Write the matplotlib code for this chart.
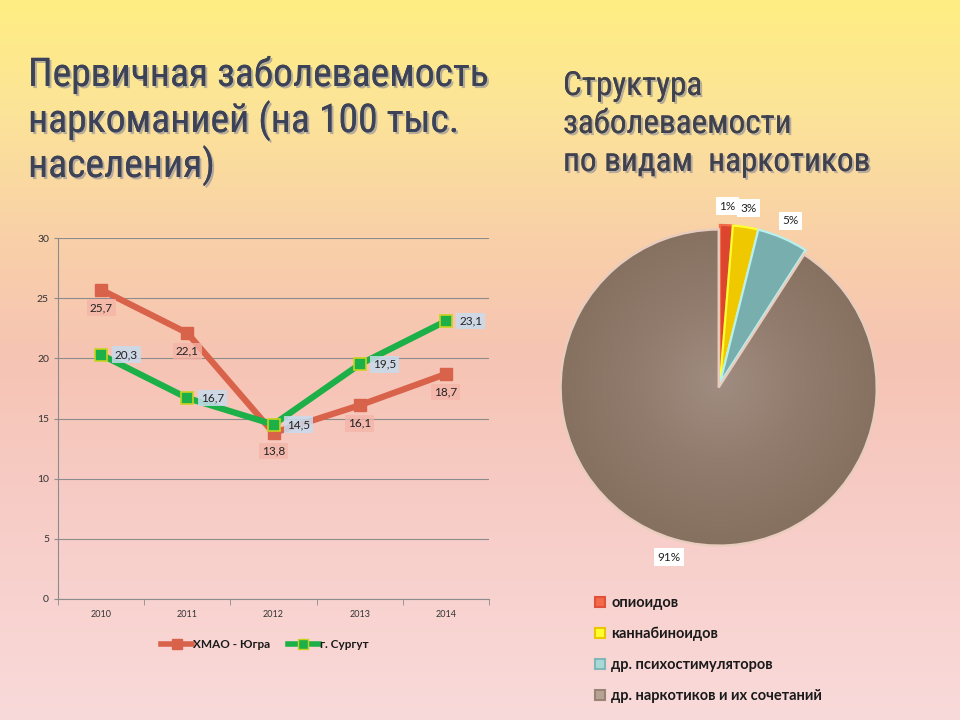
import numpy as np
import matplotlib
matplotlib.use("Agg")
import matplotlib.pyplot as plt
from matplotlib.patches import Patch, Wedge
from matplotlib.lines import Line2D
import matplotlib.patheffects as pe
from matplotlib.colors import LinearSegmentedColormap
from matplotlib import font_manager as fm

# ---------------- data ----------------
years = ["2010", "2011", "2012", "2013", "2014"]
hmao = [25.7, 22.1, 13.8, 16.1, 18.7]
surgut = [20.3, 16.7, 14.5, 19.5, 23.1]
series_names = ["ХМАО - Югра", "г. Сургут"]

pie_labels = ["опиоидов", "каннабиноидов", "др. психостимуляторов",
              "др. наркотиков и их сочетаний"]
pie_values = [1.3, 2.6, 5.2, 90.9]

title_left = ["Первичная заболеваемость", "наркоманией (на 100 тыс.", "населения)"]
title_right = ["Структура", "заболеваемости", "по видам  наркотиков"]

# ---------------- fonts ----------------
available = {f.name for f in fm.fontManager.ttflist}
def pick(cands):
    for c in cands:
        if c in available:
            return c
    return "DejaVu Sans"
narrow_name = pick(["Liberation Sans Narrow", "Roboto Condensed", "Open Sans Condensed",
                    "Noto Sans Condensed", "DejaVu Sans Condensed", "Roboto", "Lato"])
narrow = [narrow_name, "DejaVu Sans"]
lab_font = [pick(["Lato", "Open Sans"]), "DejaVu Sans"]

# ---------------- figure ----------------
W, H = 960, 720
fig = plt.figure(figsize=(W / 100, H / 100), dpi=100)

bg = fig.add_axes([0, 0, 1, 1], zorder=-10)
bg_cmap = LinearSegmentedColormap.from_list(
    "bg", [(0.0, "#FFEE82"), (0.15, "#FCE498"), (0.33, "#F9D0A8"),
           (0.5, "#F6C4B4"), (0.7, "#F7CCC6"), (1.0, "#F9DADA")])
grad = np.linspace(0, 1, 256).reshape(-1, 1)
bg.imshow(grad, aspect="auto", cmap=bg_cmap, extent=[0, 1, 0, 1], origin="upper")
bg.set_axis_off()

shadow = [pe.withSimplePatchShadow(offset=(1.5, -1.5), shadow_rgbFace="#8A8A9A", alpha=0.6),
          pe.Normal()]

fig.canvas.draw()
renderer = fig.canvas.get_renderer()

def fitted_title(lines, x0, baselines, target_w, fs0, color):
    objs = [fig.text(x0 / W, 1 - b / H, ln, fontsize=fs0, family=narrow, color=color,
                     va="baseline", ha="left", path_effects=shadow)
            for ln, b in zip(lines, baselines)]
    wmax = max(o.get_window_extent(renderer).width for o in objs)
    fs = fs0 * target_w / wmax
    for o in objs:
        o.set_fontsize(fs)

fitted_title(title_left, 28, [86, 132, 177], 460, 30, "#3C4257")
fitted_title(title_right, 563, [95, 133, 171], 307, 26, "#40414F")

# ---------------- line chart ----------------
ax = fig.add_axes([58 / W, 1 - 599 / H, (489 - 58) / W, (599 - 238) / H])
ax.set_facecolor("none")
x = np.arange(len(years))
red = "#D9624A"
green = "#1DAF48"
ax.plot(x, hmao, color=red, lw=4.5, marker="s", ms=9, mfc=red, mec=red,
        solid_capstyle="round", zorder=3)
ax.plot(x, surgut, color=green, lw=4.5, marker="s", ms=8, mfc=green, mec="#C8D21E",
        mew=1.2, solid_capstyle="round", zorder=4)

for xi, v in zip(x, hmao):
    ax.annotate(f"{v:.1f}".replace(".", ","), (xi, v), xytext=(0, -13),
                textcoords="offset points", ha="center", va="center", fontsize=8.5,
                family=lab_font, color="#222222", zorder=5,
                bbox=dict(boxstyle="square,pad=0.25", fc="#F4B4A8", ec="none", alpha=0.75))
for xi, v in zip(x, surgut):
    ax.annotate(f"{v:.1f}".replace(".", ","), (xi, v), xytext=(18, 0),
                textcoords="offset points", ha="center", va="center", fontsize=8.5,
                family=lab_font, color="#222222", zorder=5,
                bbox=dict(boxstyle="square,pad=0.25", fc="#C8DCEE", ec="none", alpha=0.85))

ax.set_xlim(-0.5, len(years) - 0.5)
ax.set_ylim(0, 30)
ax.set_yticks(np.arange(0, 31, 5))
ax.set_xticks(x)
ax.set_xticklabels(years, fontsize=6.5, family=lab_font, color="#333333")
ax.set_xticks(np.arange(-0.5, len(years), 1), minor=True)
ax.tick_params(axis="x", which="major", length=0, pad=8)
ax.tick_params(axis="x", which="minor", length=4, color="#8C8C8C")
ax.tick_params(axis="y", length=3, color="#8C8C8C", labelsize=7.5, labelcolor="#333333")
for t in ax.get_yticklabels():
    t.set_family(lab_font)
ax.grid(axis="y", color="#8C8C8C", lw=0.8)
ax.set_axisbelow(True)
for s in ["top", "right"]:
    ax.spines[s].set_visible(False)
for s in ["left", "bottom"]:
    ax.spines[s].set_color("#8C8C8C")
    ax.spines[s].set_linewidth(0.8)

handles = [Line2D([], [], color=red, lw=4, marker="s", ms=7, mec=red),
           Line2D([], [], color=green, lw=4, marker="s", ms=7, mec="#C8D21E")]
fig.legend(handles, series_names, loc="center", bbox_to_anchor=(265 / W, 1 - 645 / H),
           ncol=2, frameon=False, handlelength=2.6, handletextpad=0.1,
           columnspacing=1.5, prop=dict(family=lab_font, size=8.5, weight="bold"),
           labelcolor="#1A1A1A")

# ---------------- pie chart ----------------
R = 158
cx, cy = 720, 383
pax = fig.add_axes([(cx - R - 20) / W, 1 - (cy + R + 20) / H, (2 * R + 40) / W, (2 * R + 40) / H])
pax.set_facecolor("none")
face = ["#DC4630", "#F0C800", "#78AEAE", "#917A6C"]
edge = ["#F26A48", "#FFFF30", "#B8F0F0", "#E8CDBE"]
wedges, texts, autotexts = pax.pie(
    pie_values, startangle=90, counterclock=False, colors=face,
    explode=[0.0, 0.0, 0.0, 0.03], radius=1.0,
    autopct=lambda p: f"{p:.0f}%", pctdistance=1.12,
    wedgeprops=dict(linewidth=1.6), textprops=dict(fontsize=8.5, family=lab_font, color="#222222"))
for w, ec in zip(wedges, edge):
    w.set_edgecolor(ec)
for t in autotexts:
    t.set_bbox(dict(boxstyle="square,pad=0.3", fc="white", ec="none"))
pax.set_xlim(-1 - 20 / R, 1 + 20 / R)
pax.set_ylim(-1 - 20 / R, 1 + 20 / R)
pax.set_aspect("equal")
pax.set_axis_off()

big = wedges[3]
yy, xx = np.mgrid[-1.2:1.2:300j, -1.2:1.2:300j]
rr = np.sqrt(xx ** 2 + yy ** 2)
shade_cmap = LinearSegmentedColormap.from_list("sh", ["#A08C80", "#927C6E", "#86705F"])
im = pax.imshow(np.clip(rr, 0, 1), cmap=shade_cmap, extent=[-1.2, 1.2, -1.2, 1.2],
                origin="lower", zorder=1.5)
im.set_clip_path(big)
big.set_zorder(1)
edge_w = Wedge(big.center, big.r, big.theta1, big.theta2,
               fc="none", ec=edge[3], lw=1.6, zorder=2)
pax.add_patch(edge_w)

leg_handles = [Patch(facecolor=f, edgecolor=e, lw=1.5) for f, e in
               zip(["#F26A48", "#FFFF30", "#A8D8D8", "#B8A294"],
                   ["#E0503A", "#E8C800", "#80B8B8", "#9A8474"])]
fig.legend(leg_handles, pie_labels, loc="upper left", bbox_to_anchor=(582 / W, 1 - 583 / H),
           frameon=False, handlelength=0.7, handleheight=0.7, handletextpad=0.4,
           labelspacing=1.15, prop=dict(family=lab_font, size=10.5, weight="bold"),
           labelcolor="#1A1A1A")

fig.savefig("out.png", dpi=100)
